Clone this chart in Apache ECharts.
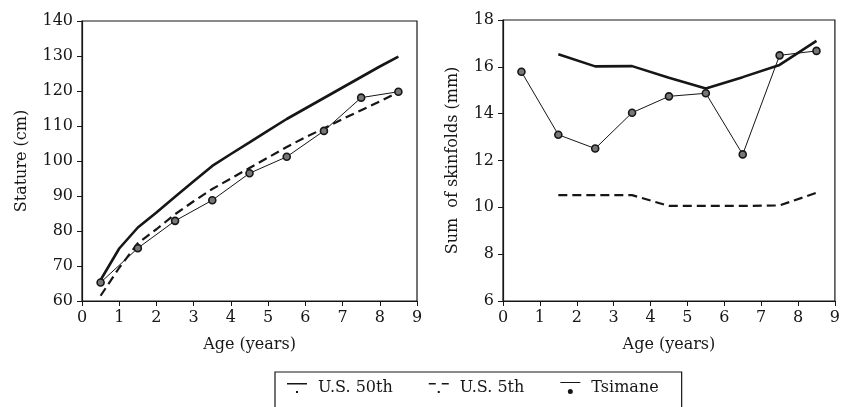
<!DOCTYPE html>
<html>
<head>
<meta charset="utf-8">
<script src="https://cdn.jsdelivr.net/npm/echarts@6/dist/echarts.min.js"></script>
<style>
html,body{margin:0;padding:0;background:#fff;}
#chart{width:843px;height:407px;}
</style>
</head>
<body>
<div id="chart"></div>
<script>
// ---- data ----
const halfAges = [0.5,1,1.5,2,2.5,3,3.5,4,4.5,5,5.5,6,6.5,7,7.5,8,8.5];
const yearAges = [0.5,1.5,2.5,3.5,4.5,5.5,6.5,7.5,8.5];
const skinAges = [1.5,2.5,3.5,4.5,5.5,6.5,7.5,8.5];

const stature50 = [66,75,81,85.3,89.8,94.2,98.6,102,105.3,108.7,112,115,118,121,124,127,129.8];
const stature5  = [61.5,69.5,76.5,80.5,84.8,88.5,92,95,98,101,104,106.8,109.3,112,114.5,117,119.7];
const statureTs = [65.3,75.1,82.9,88.8,96.5,101.2,108.6,118.1,119.8];

const skin50 = [16.54,16.02,16.03,15.53,15.07,15.56,16.08,17.11];
const skin5  = [10.52,10.52,10.52,10.06,10.06,10.06,10.08,10.62];
const skinTs = [15.79,13.1,12.51,14.04,14.74,14.87,12.26,16.49,16.68];

const xTicks = [0,9,1];       // min, max, interval
const statureTicks = [60,140,10];
const skinTicks = [6,18,2];
const names = ['U.S. 50th','U.S. 5th','Tsimane'];

const pair = (xs, ys) => xs.map((x,i)=>[x, ys[i]]);

const FONT = 'DejaVu Serif';
const INK = '#161616';
const lbl = {fontFamily:FONT,fontSize:16,color:INK};

function xAx(gi){
  return {
    type:'value', gridIndex:gi, min:xTicks[0], max:xTicks[1], interval:xTicks[2],
    name:'Age (years)', nameLocation:'middle', nameGap:36,
    nameTextStyle:{fontFamily:FONT,fontSize:16,color:INK},
    axisLine:{show:true,lineStyle:{color:INK,width:1.2}},
    axisTick:{show:true,length:5,lineStyle:{color:INK}},
    axisLabel:Object.assign({margin:9},lbl),
    splitLine:{show:false}
  };
}
function yAx(gi, t, name, gap){
  return {
    type:'value', gridIndex:gi, min:t[0], max:t[1], interval:t[2],
    name:name, nameLocation:'middle', nameGap:gap,
    nameTextStyle:{fontFamily:FONT,fontSize:16,color:INK},
    axisLine:{show:true,lineStyle:{color:INK,width:1.2}},
    axisTick:{show:true,length:5,lineStyle:{color:INK}},
    axisLabel:Object.assign({margin:9},lbl),
    splitLine:{show:false}
  };
}

const solid = {color:INK,width:2.6,type:'solid'};
const dashed = {color:INK,width:2.2,type:[9,5]};
const thin = {color:INK,width:1};
const tsSym = {color:'#777',borderColor:INK,borderWidth:1.6};

function series(gi, d50, d5, dts){
  return [
    {name:names[0],type:'line',xAxisIndex:gi,yAxisIndex:gi,data:d50,showSymbol:false,symbol:'none',lineStyle:solid,itemStyle:{color:INK},z:3},
    {name:names[1],type:'line',xAxisIndex:gi,yAxisIndex:gi,data:d5,showSymbol:false,symbol:'none',lineStyle:dashed,itemStyle:{color:INK},z:2},
    {name:names[2],type:'line',xAxisIndex:gi,yAxisIndex:gi,data:dts,symbol:'circle',symbolSize:7,lineStyle:thin,itemStyle:tsSym,z:4}
  ];
}

const legendIconStyle = {color:INK,borderWidth:0,borderColor:'transparent'};

const chart = echarts.init(document.getElementById('chart'),null,{renderer:'canvas'});
chart.setOption({
  backgroundColor:'#fff',
  animation:false,
  grid:[
    {left:82,right:426,top:21,bottom:106,show:true,borderColor:INK,borderWidth:1.2,containLabel:false},
    {left:503,right:-2,top:20,bottom:106,show:true,borderColor:INK,borderWidth:1.2,containLabel:false}
  ],
  xAxis:[xAx(0),xAx(1)],
  yAxis:[yAx(0,statureTicks,'Stature (cm)',52), yAx(1,skinTicks,'Sum  of skinfolds (mm)',42)],
  legend:{
    data:[
      {name:names[0],icon:'path://M0,0 L20,0 L20,1.6 L0,1.6 Z M9,8 L11,8 L11,10 L9,10 Z',itemStyle:legendIconStyle},
      {name:names[1],icon:'path://M0,0 L7,0 L7,1.6 L0,1.6 Z M13,0 L20,0 L20,1.6 L13,1.6 Z M9,8 L11,8 L11,10 L9,10 Z',itemStyle:legendIconStyle},
      {name:names[2],icon:'path://M0,0 L20,0 L20,1 L0,1 Z M7.5,9.5 A2.5,2.5 0 1,0 12.5,9.5 A2.5,2.5 0 1,0 7.5,9.5 Z',itemStyle:legendIconStyle}
    ],
    itemStyle:legendIconStyle,
    left:275, top:372,
    orient:'horizontal',
    itemWidth:20, itemHeight:12, itemGap:36,
    padding:[8,23,40,12],
    borderColor:INK, borderWidth:1.2,
    textStyle:{fontFamily:FONT,fontSize:16,color:INK,padding:[0,0,0,6]},
    inactiveColor:INK
  },
  series:[].concat(
    series(0, pair(halfAges,stature50), pair(halfAges,stature5), pair(yearAges,statureTs)),
    series(1, pair(skinAges,skin50), pair(skinAges,skin5), pair(yearAges,skinTs))
  )
});
</script>
</body>
</html>
